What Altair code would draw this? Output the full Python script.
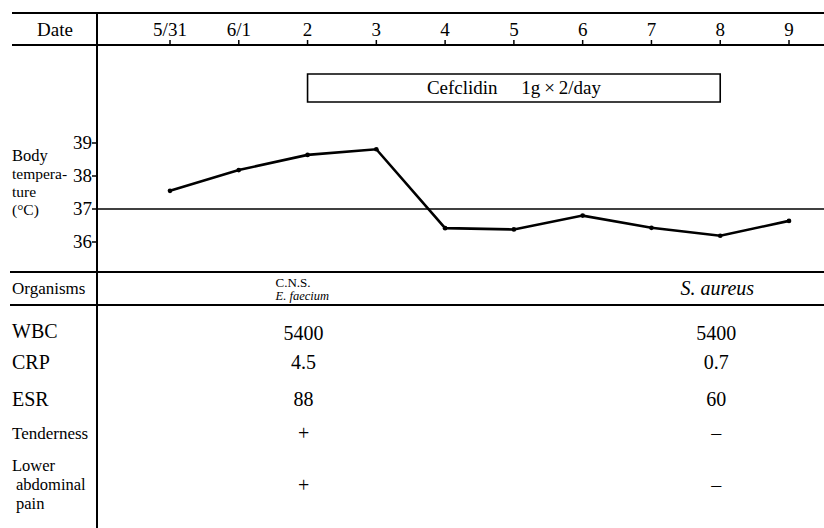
import altair as alt
import pandas as pd

# ---------------- data ----------------
dates = ["5/31", "6/1", "2", "3", "4", "5", "6", "7", "8", "9"]
temps = [37.55, 38.18, 38.64, 38.81, 36.42, 36.38, 36.80, 36.43, 36.19, 36.64]
temp_ticks = [36, 37, 38, 39]
normal_temp = [37]
drug_label = "Cefclidin\u2003 1g\u2009\u00d7\u20092/day"
drug_span = ["2", "8"]
sample_dates = ["2", "8"]
organisms_1 = ["C.N.S.", "E. faecium"]
organisms_2 = ["S. aureus"]
row_names = ["WBC", "CRP", "ESR", "Tenderness", "Lower abdominal pain"]
wbc = ["5400", "5400"]
crp = ["4.5", "0.7"]
esr = ["88", "60"]
tenderness = ["+", "\u2013"]
lower_abd_pain = ["+", "\u2013"]
row_values = [wbc, crp, esr, tenderness, lower_abd_pain]

# ---------------- layout ----------------
W, H = 824, 528
SERIF = "Liberation Serif"
xs = alt.Scale(domain=[0, len(dates) - 1], range=[170, 789])
ys = alt.Scale(domain=[36, 39], range=[242, 143])
idx = {d: i for i, d in enumerate(dates)}

one = pd.DataFrame({"a": [0]})
date_df = pd.DataFrame({"idx": list(range(len(dates))), "date": dates, "temp": temps})
tick_df = pd.DataFrame({"temp": temp_ticks, "lab": [str(t) for t in temp_ticks]})
norm_df = pd.DataFrame({"temp": normal_temp})
drug_df = pd.DataFrame({"s": [idx[drug_span[0]]], "e": [idx[drug_span[1]]],
                        "m": [(idx[drug_span[0]] + idx[drug_span[1]]) / 2], "lab": [drug_label]})

X = lambda f: alt.X(f, scale=xs, axis=None)
Y = lambda f: alt.Y(f, scale=ys, axis=None)

layers = []


def rule(x0, x1, y0, y1, w=2.0):
    enc = dict(x=alt.value(x0), y=alt.value(y0))
    if x1 is not None:
        enc["x2"] = alt.value(x1)
    if y1 is not None:
        enc["y2"] = alt.value(y1)
    return alt.Chart(one).mark_rule(color="black", strokeWidth=w).encode(**enc)


def label(txt, x, y, size, align="left", style="normal"):
    return alt.Chart(pd.DataFrame({"t": [txt]})).mark_text(
        font=SERIF, fontSize=size, align=align, baseline="middle", color="black", fontStyle=style
    ).encode(x=alt.value(x), y=alt.value(y), text="t:N")


# frame lines
layers += [rule(12, 824, 13, None, 2), rule(12, 824, 45, None, 2),
           rule(10, 824, 272, None, 2), rule(10, 824, 305, None, 1.8),
           rule(97, None, 13, 528, 2)]

# normal temperature line
layers.append(alt.Chart(norm_df).mark_rule(color="black", strokeWidth=1.5).encode(
    y=Y("temp:Q"), x=alt.value(97), x2=alt.value(824)))

# date labels and ticks
layers.append(alt.Chart(date_df).mark_text(font=SERIF, fontSize=19, baseline="middle", color="black").encode(
    x=X("idx:Q"), y=alt.value(30), text="date:N"))
layers.append(alt.Chart(date_df).mark_rule(color="black", strokeWidth=1.5).encode(
    x=X("idx:Q"), y=alt.value(40), y2=alt.value(45)))

# temperature axis ticks
layers.append(alt.Chart(tick_df).mark_rule(color="black", strokeWidth=1.5).encode(
    y=Y("temp:Q"), x=alt.value(92), x2=alt.value(97)))
layers.append(alt.Chart(tick_df).mark_text(font=SERIF, fontSize=19, align="right", baseline="middle", color="black").encode(
    y=Y("temp:Q"), x=alt.value(92), text="lab:N"))

# temperature line
layers.append(alt.Chart(date_df).mark_line(color="black", strokeWidth=2.6, point=alt.OverlayMarkDef(
    filled=True, color="black", size=22)).encode(x=X("idx:Q"), y=Y("temp:Q")))

# drug box
layers.append(alt.Chart(drug_df).mark_rect(fill="white", stroke="black", strokeWidth=1.6).encode(
    x=X("s:Q"), x2="e:Q", y=alt.value(74), y2=alt.value(102)))
layers.append(alt.Chart(drug_df).mark_text(font=SERIF, fontSize=19, baseline="middle", color="black").encode(
    x=X("m:Q"), y=alt.value(88), text="lab:N"))

# left labels
layers += [
    label("Date", 55, 30, 19, align="center"),
    label("Body", 12, 156, 16.5),
    label("tempera-", 12, 174, 15.5),
    label("ture", 12, 192, 15.5),
    label("(\u00b0C)", 12, 210, 15.5),
    label("Organisms", 12, 289, 17),
    label("WBC", 12, 332, 20),
    label("CRP", 12, 363, 20),
    label("ESR", 12, 400, 20),
    label("Tenderness", 12, 434, 17),
    label("Lower", 12, 466, 16.5),
    label("abdominal", 16, 485, 16.5),
    label("pain", 16, 504, 16.5),
]

# organisms
org1 = pd.DataFrame({"idx": [idx[sample_dates[0]]] * 2, "t": organisms_1})
layers.append(alt.Chart(org1.iloc[[0]]).mark_text(font=SERIF, fontSize=13, align="left", baseline="middle",
                                                  dx=-32, color="black").encode(
    x=X("idx:Q"), y=alt.value(283), text="t:N"))
layers.append(alt.Chart(org1.iloc[[1]]).mark_text(font=SERIF, fontSize=12.5, fontStyle="italic", align="left",
                                                  baseline="middle", dx=-32, color="black").encode(
    x=X("idx:Q"), y=alt.value(296), text="t:N"))
org2 = pd.DataFrame({"idx": [idx[sample_dates[1]]], "t": organisms_2})
layers.append(alt.Chart(org2).mark_text(font=SERIF, fontSize=20, fontStyle="italic", baseline="middle",
                                        dx=-3, color="black").encode(
    x=X("idx:Q"), y=alt.value(289), text="t:N"))

# table values
row_y = [334, 363, 400, 434, 486]
for vals, yy in zip(row_values, row_y):
    df = pd.DataFrame({"idx": [idx[d] for d in sample_dates], "v": vals})
    layers.append(alt.Chart(df).mark_text(font=SERIF, fontSize=20, baseline="middle", dx=-4, color="black").encode(
        x=X("idx:Q"), y=alt.value(yy), text="v:N"))

chart = alt.layer(*layers).properties(
    width=W, height=H, autosize=alt.AutoSizeParams(type="none"), padding=0, background="white"
).configure_view(stroke=None)

chart.save("out.html", embed_options={"renderer": "svg", "actions": False})
